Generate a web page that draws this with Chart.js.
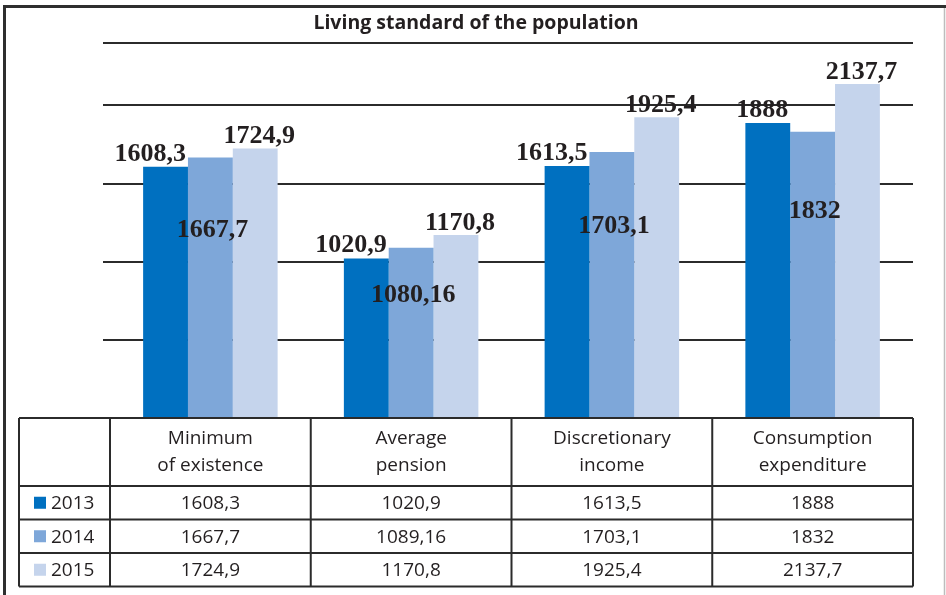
<!DOCTYPE html>
<html>
<head>
<meta charset="utf-8">
<title>Living standard of the population</title>
<script src="https://cdn.jsdelivr.net/npm/chart.js@4.4.1/dist/chart.umd.min.js"></script>
<style>
  html, body { margin: 0; padding: 0; background: #fff; }
  #wrap { width: 946px; height: 595px; }
</style>
</head>
<body>
<div id="wrap"><canvas id="livingChart" width="946" height="595"></canvas></div>
<script>
// Data
const categories = [
    ['Minimum', 'of existence'],
    ['Average', 'pension'],
    ['Discretionary', 'income'],
    ['Consumption', 'expenditure']
];
const years = ['2013', '2014', '2015'];
const values2013 = [1608.3, 1020.9, 1613.5, 1888];
const values2014 = [1667.7, 1089.16, 1703.1, 1832];
const values2015 = [1724.9, 1170.8, 1925.4, 2137.7];
const yTicks = [0, 500, 1000, 1500, 2000, 2400];
// the bar label for pension 2014 reads "1080,16" in the source, the table says 1089,16
const barLabelOverrides = { '1-1': '1080,16' };

const colors = ['#0070c0', '#7ea7d9', '#c5d4ec'];
const textColor = '#231f20';
const lineColor = '#2b2b2b';
const sansFont = '"Open Sans", "Liberation Sans", sans-serif';

function fmt(v) {
    return String(v).replace('.', ',');
}

// Frame and title
const frame = {
    id: 'frame',
    beforeDraw(chart) {
        const ctx = chart.ctx;
        ctx.save();
        ctx.fillStyle = '#fff';
        ctx.fillRect(0, 0, chart.width, chart.height);
        ctx.restore();
    },
    afterDraw(chart) {
        const ctx = chart.ctx;
        ctx.save();
        ctx.strokeStyle = '#2f2f2f';
        ctx.lineWidth = 3;
        ctx.beginPath();
        ctx.moveTo(3, 6.5); ctx.lineTo(946, 6.5);
        ctx.moveTo(4.5, 5); ctx.lineTo(4.5, 595);
        ctx.stroke();
        ctx.strokeStyle = '#bdbdbd';
        ctx.lineWidth = 1.5;
        ctx.beginPath();
        ctx.moveTo(944.5, 8); ctx.lineTo(944.5, 595);
        ctx.stroke();

        ctx.fillStyle = textColor;
        ctx.font = 'bold 19.5px ' + sansFont;
        ctx.textAlign = 'center';
        ctx.textBaseline = 'middle';
        ctx.fillText('Living standard of the population', 476, 23);
        ctx.restore();
    }
};

// Value labels on the bars
const barLabels = {
    id: 'barLabels',
    afterDatasetsDraw(chart) {
        const ctx = chart.ctx;
        ctx.save();
        ctx.font = 'bold 26px "Liberation Serif", "Times New Roman", serif';
        ctx.fillStyle = textColor;
        chart.data.datasets.forEach((ds, di) => {
            chart.getDatasetMeta(di).data.forEach((bar, i) => {
                const txt = barLabelOverrides[di + '-' + i] || fmt(ds.data[i]);
                if (di === 0) {
                    ctx.textAlign = 'right';
                    ctx.textBaseline = 'alphabetic';
                    ctx.fillText(txt, bar.x + bar.width / 2 - 2, bar.y - 6);
                } else if (di === 1) {
                    ctx.textAlign = 'center';
                    ctx.textBaseline = 'middle';
                    ctx.fillText(txt, bar.x + 2, bar.base - (bar.base - bar.y) * 0.72);
                } else {
                    ctx.textAlign = 'center';
                    ctx.textBaseline = 'alphabetic';
                    ctx.fillText(txt, bar.x + 4, bar.y - 5);
                }
            });
        });
        ctx.restore();
    }
};

// Data table under the plot
const dataTable = {
    id: 'dataTable',
    afterDraw(chart) {
        const ctx = chart.ctx;
        const xs = chart.scales.x;
        const area = chart.chartArea;
        const half = (xs.getPixelForValue(1) - xs.getPixelForValue(0)) / 2;
        const cols = [19, area.left];
        categories.forEach((c, i) => cols.push(xs.getPixelForValue(i) + half));
        const rows = [area.bottom, area.bottom + 68];
        years.forEach(() => rows.push(rows[rows.length - 1] + 33.5));

        ctx.save();
        ctx.strokeStyle = lineColor;
        ctx.lineWidth = 2;
        ctx.beginPath();
        rows.forEach(y => { ctx.moveTo(cols[0], y); ctx.lineTo(cols[cols.length - 1], y); });
        cols.forEach(x => { ctx.moveTo(x, rows[0]); ctx.lineTo(x, rows[rows.length - 1]); });
        ctx.stroke();

        ctx.fillStyle = textColor;
        ctx.font = '19px ' + sansFont;
        ctx.textBaseline = 'middle';
        ctx.textAlign = 'center';
        categories.forEach((lines, i) => {
            const cx = xs.getPixelForValue(i);
            lines.forEach((line, li) => ctx.fillText(line, cx, rows[0] + 21 + li * 27));
        });

        const series = [values2013, values2014, values2015];
        series.forEach((vals, r) => {
            const cy = (rows[r + 1] + rows[r + 2]) / 2;
            ctx.fillStyle = colors[r];
            ctx.fillRect(34, cy - 6, 12, 12);
            ctx.fillStyle = textColor;
            ctx.textAlign = 'left';
            ctx.fillText(years[r], 51, cy + 1);
            ctx.textAlign = 'center';
            vals.forEach((v, i) => ctx.fillText(fmt(v), xs.getPixelForValue(i), cy + 1));
        });
        ctx.restore();
    }
};

const ctx = document.getElementById('livingChart').getContext('2d');
const chart = new Chart(ctx, {
    type: 'bar',
    data: {
        labels: categories,
        datasets: [
            { label: years[0], data: values2013, backgroundColor: colors[0] },
            { label: years[1], data: values2014, backgroundColor: colors[1] },
            { label: years[2], data: values2015, backgroundColor: colors[2] }
        ]
    },
    options: {
        responsive: false,
        animation: false,
        devicePixelRatio: 1,
        layout: { padding: { top: 43, left: 110, right: 33, bottom: 177 } },
        datasets: {
            bar: { categoryPercentage: 0.67, barPercentage: 1.0, borderWidth: 0 }
        },
        scales: {
            x: { display: false },
            y: {
                min: 0,
                max: 2400,
                afterBuildTicks: (s) => { s.ticks = yTicks.map(v => ({ value: v })); },
                afterFit: (s) => { s.width = 0; },
                ticks: { display: false },
                border: { display: false },
                grid: { color: lineColor, lineWidth: 2, drawTicks: true, tickLength: 7 }
            }
        },
        plugins: {
            legend: { display: false },
            tooltip: { enabled: false },
            title: { display: false }
        }
    },
    plugins: [frame, barLabels, dataTable]
});
</script>
</body>
</html>
